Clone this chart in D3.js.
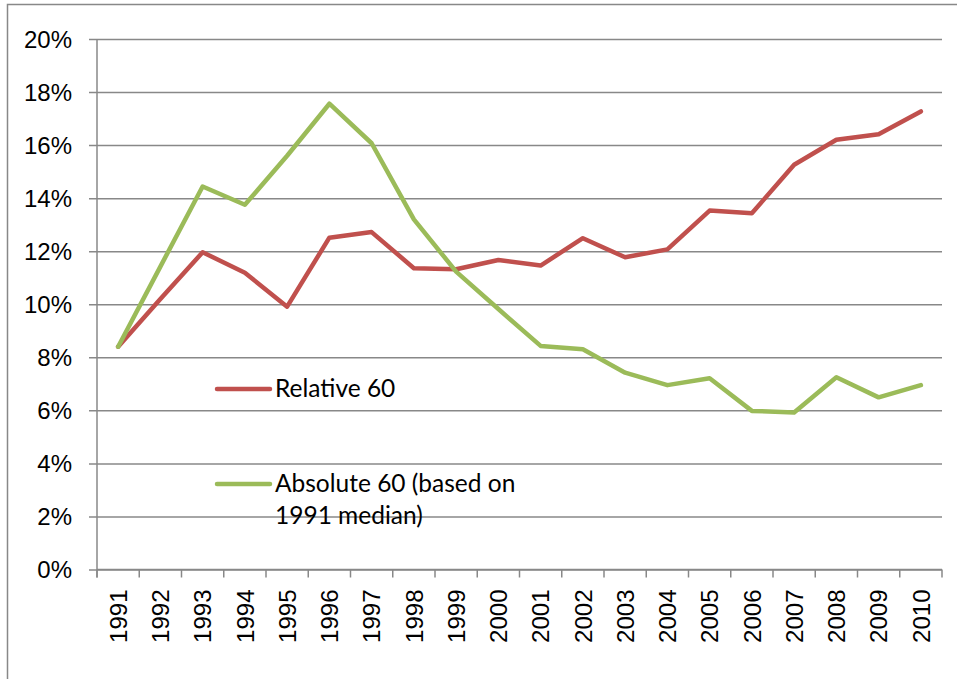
<!DOCTYPE html>
<html>
<head>
<meta charset="utf-8">
<script src="https://cdn.jsdelivr.net/npm/d3@7"></script>
<style>
  body { margin: 0; background: #fff; }
  svg { display: block; font-family: Lato, "Open Sans", sans-serif; }
</style>
</head>
<body>
<svg id="chart" width="957" height="679"></svg>
<script>
// chart data
const years = ["1991", "1992", "1993", "1994", "1995", "1996", "1997", "1998", "1999", "2000",
  "2001", "2002", "2003", "2004", "2005", "2006", "2007", "2008", "2009", "2010"];
const relative60 = [8.4, 10.2, 11.96, 11.19, 9.91, 12.51, 12.72, 11.36, 11.32, 11.67,
  11.46, 12.49, 11.77, 12.07, 13.53, 13.43, 15.26, 16.2, 16.41, 17.27];
const absolute60 = [8.4, 11.42, 14.44, 13.75, 15.6, 17.56, 16.07, 13.2, 11.23, 9.82,
  8.43, 8.3, 7.42, 6.95, 7.21, 5.98, 5.92, 7.25, 6.49, 6.95];
const yTicks = [0, 2, 4, 6, 8, 10, 12, 14, 16, 18, 20];
const seriesNames = ["Relative 60", "Absolute 60 (based on|1991 median)"];

const PLOT = { left: 97, right: 942, top: 39, bottom: 569.5 };
const GRID_COLOR = "#888888";
const COLORS = ["#C0504D", "#9BBB59"];

const svg = d3.select("#chart");

// outer chart border (runs off the right and bottom of the picture)
svg.append("rect")
  .attr("x", 7.5).attr("y", 4.5)
  .attr("width", 1100).attr("height", 1100)
  .attr("fill", "none")
  .attr("stroke", GRID_COLOR)
  .attr("stroke-width", 1.5);

let xScale = d3.scaleBand().domain(years).range([PLOT.left, PLOT.right]).padding(0);
let yScale = d3.scaleLinear().domain([0, 20]).range([PLOT.bottom, PLOT.top]);

// y axis: gridlines + labels
let yAxis = svg.append("g")
  .attr("transform", `translate(${PLOT.left},0)`)
  .call(d3.axisLeft(yScale)
    .tickValues(yTicks)
    .tickSize(-(PLOT.right - PLOT.left))
    .tickPadding(25)
    .tickFormat(d => d + "%"));

yAxis.select(".domain").remove();
yAxis.selectAll(".tick line")
  .attr("x1", -8)
  .attr("stroke", GRID_COLOR)
  .attr("stroke-width", 1.5);
yAxis.selectAll(".tick text")
  .attr("fill", "#000")
  .style("font-size", "24px")
  .attr("dy", "0.34em");

// vertical axis line
svg.append("line")
  .attr("x1", PLOT.left).attr("x2", PLOT.left)
  .attr("y1", PLOT.top).attr("y2", PLOT.bottom + 8)
  .attr("stroke", GRID_COLOR)
  .attr("stroke-width", 1.5);

// x axis: tick marks sit between the categories
let xAxis = svg.append("g")
  .attr("transform", `translate(0,${PLOT.bottom})`)
  .call(d3.axisBottom(xScale).tickSize(0).tickPadding(0));

xAxis.select(".domain").remove();
xAxis.selectAll(".tick text")
  .attr("fill", "#000")
  .style("font-size", "24px")
  .attr("text-anchor", "end")
  .attr("transform", "rotate(-90)")
  .attr("x", -20)
  .attr("y", 0)
  .attr("dy", "0.36em");

svg.append("g")
  .selectAll("line")
  .data(years.map(y => xScale(y)).concat([PLOT.right]))
  .join("line")
  .attr("x1", d => d).attr("x2", d => d)
  .attr("y1", PLOT.bottom).attr("y2", PLOT.bottom + 8)
  .attr("stroke", GRID_COLOR)
  .attr("stroke-width", 1.5);

svg.append("line")
  .attr("x1", PLOT.left).attr("x2", PLOT.right)
  .attr("y1", PLOT.bottom).attr("y2", PLOT.bottom)
  .attr("stroke", GRID_COLOR)
  .attr("stroke-width", 1.5);

// series lines
const lineGen = d3.line()
  .x((d, i) => xScale(years[i]) + xScale.bandwidth() / 2)
  .y(d => yScale(d));

svg.selectAll(".series")
  .data([relative60, absolute60])
  .join("path")
  .attr("class", "series")
  .attr("d", lineGen)
  .attr("fill", "none")
  .attr("stroke", (d, i) => COLORS[i])
  .attr("stroke-width", 4.5)
  .attr("stroke-linejoin", "round")
  .attr("stroke-linecap", "round");

// legend, inside the plot
const legendY = [389, 484];
let legend = svg.append("g");

seriesNames.forEach((name, i) => {
  legend.append("line")
    .attr("x1", 217).attr("x2", 270)
    .attr("y1", legendY[i]).attr("y2", legendY[i])
    .attr("stroke", COLORS[i])
    .attr("stroke-width", 4.5)
    .attr("stroke-linecap", "round");

  let t = legend.append("text")
    .attr("x", 275)
    .attr("y", legendY[i] + 8)
    .style("font-size", "24.5px")
    .attr("fill", "#000");

  name.split("|").forEach((part, j) => {
    t.append("tspan")
      .attr("x", 275)
      .attr("dy", j === 0 ? 0 : 32)
      .text(part);
  });
});
</script>
</body>
</html>
